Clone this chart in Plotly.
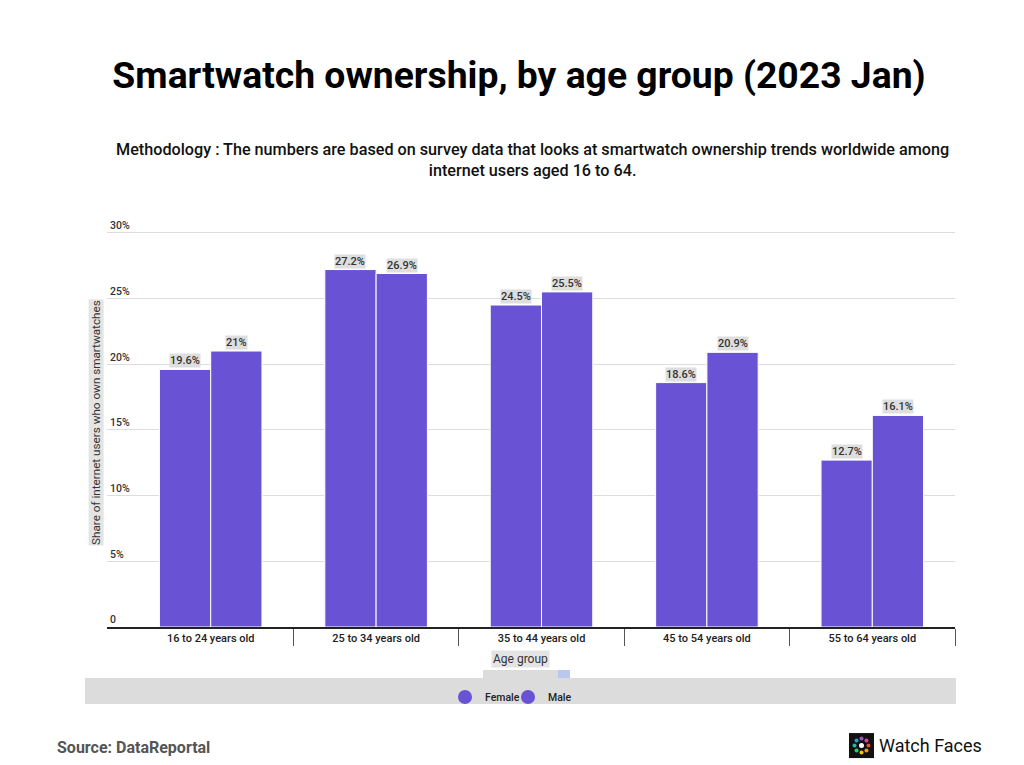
import math
import plotly.graph_objects as go

categories = ["16 to 24 years old", "25 to 34 years old", "35 to 44 years old",
              "45 to 54 years old", "55 to 64 years old"]
female = [19.6, 27.2, 24.5, 18.6, 12.7]
male = [21, 26.9, 25.5, 20.9, 16.1]
series_names = ["Female", "Male"]
y_tickvals = [0, 5, 10, 15, 20, 25, 30]
y_ticktext = ["0", "5%", "10%", "15%", "20%", "25%", "30%"]

W, H = 1024, 765
OFF = 8  # page body margin
Y_TOP = 31.2
L, R, B = 107, 955, 627
UNIT = (627 - 233) / 30.0
T = B - Y_TOP * UNIT
PW, PH = R - L, B - T
BAR_COLOR = "#6953d4"
FONT = "Roboto"
BARGAP = 0.38
XMIN, XMAX = -0.627, 4.5


def px(x):
    return (x - L) / PW


def py(y):
    return (B - y) / PH


fig = go.Figure()
for name, vals in zip(series_names, [female, male]):
    fig.add_trace(go.Bar(
        x=categories, y=vals, name=name, showlegend=False,
        marker=dict(color=BAR_COLOR, line=dict(color="white", width=1)),
    ))
for name, lg in zip(series_names, ["legend", "legend2"]):
    fig.add_trace(go.Scatter(
        x=[None], y=[None], mode="markers", name=name, legend=lg,
        marker=dict(color=BAR_COLOR, size=14, symbol="circle"),
    ))

unit_px = PW / (XMAX - XMIN)
bar_w = unit_px * (1 - BARGAP) / 2
annotations = []
for i, vals in enumerate([female, male]):
    shift = (i - 0.5) * bar_w
    for c, v in zip(categories, vals):
        annotations.append(dict(
            x=c, y=v, xref="x", yref="y", text=f"{v:g}%", showarrow=False,
            xshift=shift, yshift=1, yanchor="bottom",
            font=dict(family=FONT, size=11, color="#333", weight=500),
            bgcolor="#dedede", borderpad=0,
        ))

annotations += [
    dict(x=px(532), y=py(160), xref="paper", yref="paper", showarrow=False,
         text="Methodology : The numbers are based on survey data that looks at smartwatch ownership trends worldwide among<br>internet users aged 16 to 64.",
         font=dict(family=FONT, size=16.2, color="#111", weight=500),
         xanchor="center", yanchor="middle", align="center"),
    dict(x=px(520), y=py(659), xref="paper", yref="paper", showarrow=False,
         text="Age group", font=dict(family=FONT, size=12, color="#333"),
         bgcolor="#e4e4e4", xanchor="center", yanchor="middle", borderpad=1),
    dict(x=px(96), y=py(423), xref="paper", yref="paper", showarrow=False,
         text="Share of internet users who own smartwatches", textangle=-90,
         font=dict(family=FONT, size=11.7, color="#333"),
         bgcolor="#e4e4e4", xanchor="center", yanchor="middle", borderpad=0),
    dict(x=px(55), y=py(747), xref="paper", yref="paper", showarrow=False,
         text="Source: DataReportal", xanchor="left", yanchor="middle",
         font=dict(family=FONT, size=16, color="#555", weight="bold")),
    dict(x=px(877), y=py(745), xref="paper", yref="paper", showarrow=False,
         text="Watch Faces", xanchor="left", yanchor="middle",
         font=dict(family=FONT, size=18, color="#111")),
]

shapes = [
    dict(type="rect", xref="paper", yref="paper", x0=px(85), x1=px(956),
         y0=py(704), y1=py(678), fillcolor="#dcdcdc", line_width=0, layer="below"),
    dict(type="rect", xref="paper", yref="paper", x0=px(483), x1=px(558),
         y0=py(678), y1=py(670), fillcolor="#dcdcdc", line_width=0, layer="below"),
    dict(type="rect", xref="paper", yref="paper", x0=px(558), x1=px(570),
         y0=py(678), y1=py(670), fillcolor="#b8c8ee", line_width=0, layer="below"),
    dict(type="rect", xref="paper", yref="paper", x0=px(849), x1=px(874),
         y0=py(758), y1=py(733), fillcolor="#111", line_width=0),
]
dot_colors = ["#e74c3c", "#f39c12", "#f1c40f", "#2ecc71", "#1abc9c",
              "#3498db", "#9b59b6", "#e84393"]
cx, cy = 861.5, 745.5
for k, col in enumerate(dot_colors):
    a = 2 * math.pi * k / 8
    dx, dy = cx + 7 * math.cos(a), cy + 7 * math.sin(a)
    shapes.append(dict(type="circle", xref="paper", yref="paper",
                       x0=px(dx - 2), x1=px(dx + 2), y0=py(dy + 2), y1=py(dy - 2),
                       fillcolor=col, line_width=0))
shapes.append(dict(type="circle", xref="paper", yref="paper",
                   x0=px(cx - 2.5), x1=px(cx + 2.5), y0=py(cy + 2.5), y1=py(cy - 2.5),
                   fillcolor="#ffffff", line_width=0))

legend_common = dict(orientation="h", y=py(697), xanchor="left",
                     yanchor="middle", bgcolor="rgba(0,0,0,0)",
                     font=dict(family=FONT, size=10.5, color="#222", weight=500),
                     itemwidth=30)

fig.update_layout(
    width=W, height=H,
    margin=dict(l=L - OFF, r=W - (R - OFF), t=T - OFF, b=H - (B - OFF), pad=0),
    paper_bgcolor="white", plot_bgcolor="white",
    barmode="group", bargap=BARGAP, bargroupgap=0,
    title=dict(text="<b>Smartwatch ownership, by age group (2023 Jan)</b>",
               xref="container", x=(519 - OFF) / W, y=1 - (75 - OFF) / H,
               xanchor="center", yanchor="middle",
               font=dict(family=FONT, size=37.3, color="#000")),
    xaxis=dict(range=[XMIN, XMAX], showgrid=False, showline=True,
               linecolor="#222", linewidth=1.5, ticks="outside",
               tickson="boundaries", ticklen=17, tickcolor="#555", tickwidth=1,
               tickfont=dict(family=FONT, size=11, color="#222", weight=500),
               fixedrange=True),
    yaxis=dict(range=[0, Y_TOP], tickvals=y_tickvals, ticktext=y_ticktext,
               ticklabelposition="inside top", showgrid=True,
               gridcolor="#dddddd", gridwidth=1, zeroline=False, showline=False,
               tickfont=dict(family=FONT, size=10.5, color="#333", weight=500)),
    legend=dict(x=px(445), **legend_common),
    legend2=dict(x=px(508), **legend_common),
    annotations=annotations,
    shapes=shapes,
    font=dict(family=FONT),
)

fig.write_html("out.html")
